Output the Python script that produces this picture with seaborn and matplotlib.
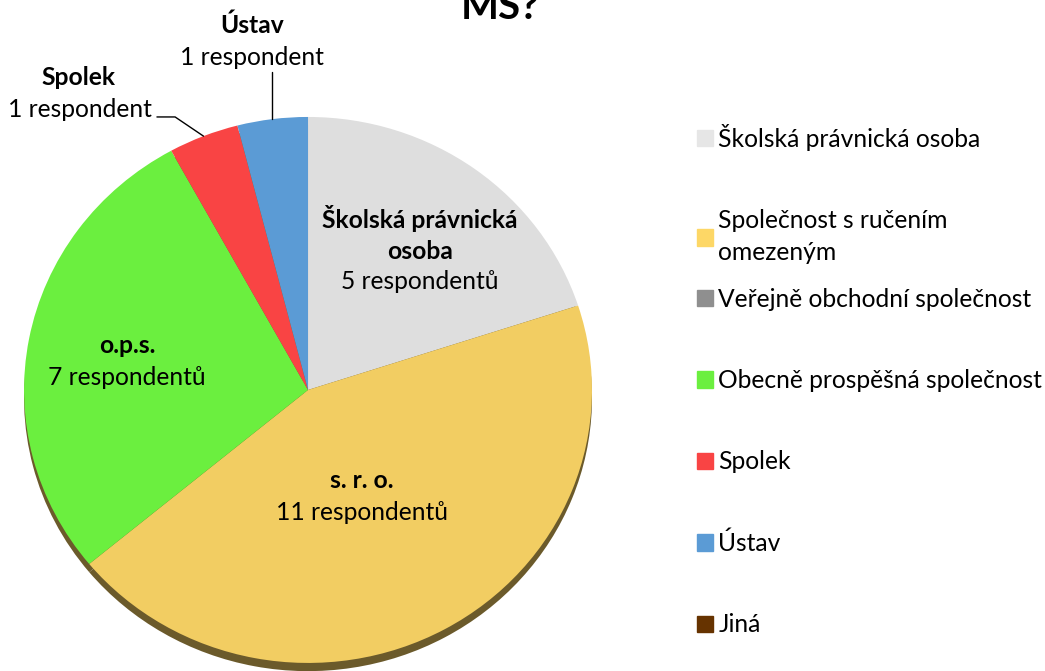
import numpy as np
import matplotlib
matplotlib.use("Agg")
import matplotlib.pyplot as plt
import seaborn as sns

# data
categories = ["Školská právnická osoba", "Společnost s ručením\nomezeným",
              "Veřejně obchodní společnost", "Obecně prospěšná společnost",
              "Spolek", "Ústav", "Jiná"]
short_names = ["Školská právnická\nosoba", "s. r. o.", "", "o.p.s.", "Spolek", "Ústav", ""]
counts = [5, 11, 0, 7, 1, 1, 0]
count_labels = ["5 respondentů", "11 respondentů", "", "7 respondentů",
                "1 respondent", "1 respondent", ""]
colors = ["#DEDEDE", "#F2CD62", "#8F8F8F", "#6BEF3F", "#F94444", "#5B9BD5", "#663300"]
legend_colors = ["#E6E6E6", "#FDD766", "#8F8F8F", "#6BEF3F", "#F94444", "#5B9BD5", "#663300"]

sns.set_theme(style="white")
plt.rcParams["font.family"] = ["Lato", "DejaVu Sans"]
plt.rcParams["text.color"] = "black"

fig = plt.figure(figsize=(10.45, 6.71), dpi=100)
ax = fig.add_axes([0.023, 0.012, 0.5435, 0.8137])

# darker copy underneath, gives the "3D" rim at the bottom
ax.pie(counts, colors=["#6B5A2B"] * len(counts), startangle=90, counterclock=False,
       center=(0, -0.03), wedgeprops=dict(linewidth=0))
wedges, _ = ax.pie(counts, colors=colors, startangle=90, counterclock=False,
                   wedgeprops=dict(linewidth=0))
ax.set_aspect("auto")
ax.set_xlim(-1, 1)
ax.set_ylim(-1, 1)
ax.axis("off")

fs = 17.7
# labels inside slices
inside = {0: (0.394, 0.571, 0.396), 1: (0.19, -0.333, -0.45), 3: (-0.637, 0.161, 0.044)}
for i, (x, yb, yc) in inside.items():
    ax.text(x, yb, short_names[i], ha="center", va="center", fontsize=fs,
            fontweight="bold", linespacing=1.45, clip_on=False)
    ax.text(x, yc, count_labels[i], ha="center", va="center", fontsize=fs, clip_on=False)

# outside labels with leader lines to slice mid-angle
total = sum(counts)
mid_angles = []
start = 90.0
for c in counts:
    sweep = 360.0 * c / total
    mid_angles.append(np.deg2rad(start - sweep / 2))
    start -= sweep

# Spolek
i = 4
ax.text(-0.81, 1.143, short_names[i], ha="center", va="center", fontsize=fs,
        fontweight="bold", clip_on=False)
ax.text(-0.803, 1.026, count_labels[i], ha="center", va="center", fontsize=fs, clip_on=False)
ex, ey = np.cos(mid_angles[i]), np.sin(mid_angles[i])
ax.plot([-0.532, -0.468, ex], [1.0, 1.0, ey], color="black", lw=1, clip_on=False)

# Ústav
i = 5
ax.text(-0.197, 1.337, short_names[i], ha="center", va="center", fontsize=fs,
        fontweight="bold", clip_on=False)
ax.text(-0.197, 1.216, count_labels[i], ha="center", va="center", fontsize=fs, clip_on=False)
ex, ey = np.cos(mid_angles[i]), np.sin(mid_angles[i])
ax.plot([ex, ex], [1.165, ey], color="black", lw=1, clip_on=False)

# title (cut off at the top like the source)
fig.text(0.4785, 1 - 19 / 671, "MS?", ha="center", va="baseline", fontsize=29,
         fontweight="bold")

# legend, split in two so the wrapped entry does not push the rest down
handles = [plt.Rectangle((0, 0), 1, 1, color=c) for c in legend_colors]
leg_kw = dict(loc="upper left", frameon=False, fontsize=fs, handlelength=0.65,
              handleheight=0.65, handletextpad=0.2, labelspacing=2.37, borderaxespad=0)
leg1 = fig.legend(handles[:2], categories[:2], bbox_to_anchor=(0.658, 0.83), **leg_kw)
leg1.get_texts()[1].set_linespacing(1.45)
leg2 = fig.legend(handles[2:], categories[2:], bbox_to_anchor=(0.658, 1 - 278 / 671), **leg_kw)

fig.savefig("out.png", dpi=100)
